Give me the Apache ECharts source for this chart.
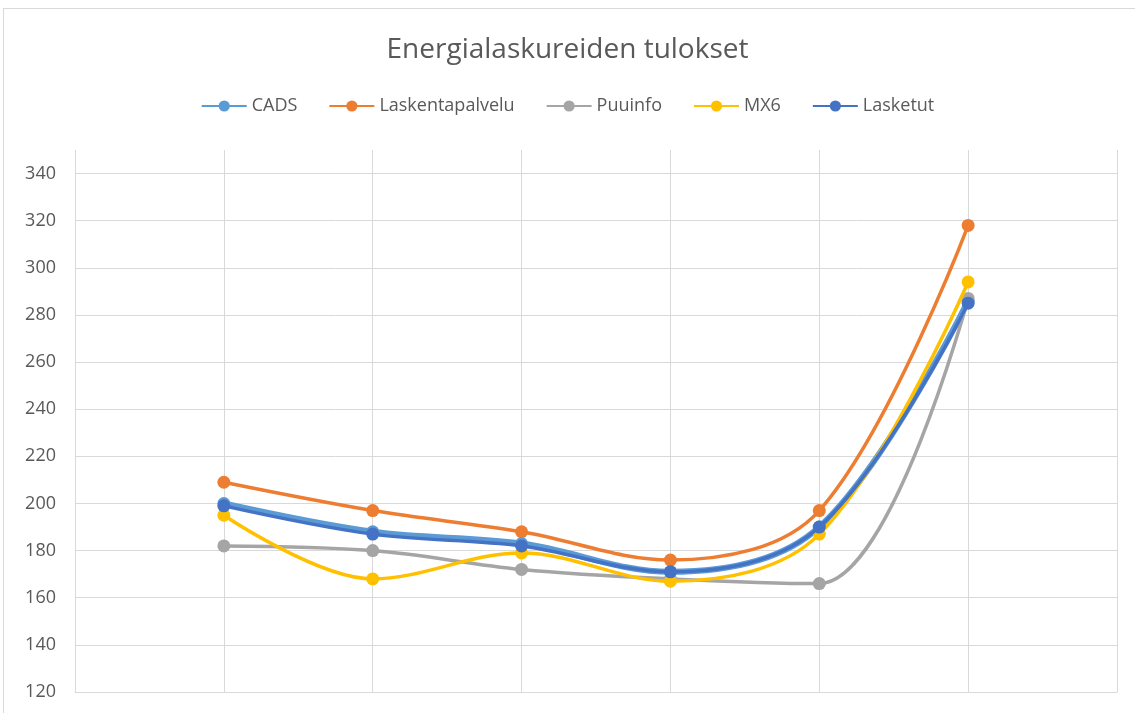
<!DOCTYPE html>
<html>
<head>
<meta charset="utf-8">
<script src="https://cdn.jsdelivr.net/npm/echarts@6/dist/echarts.min.js"></script>
<style>
html,body{margin:0;padding:0;background:#fff;}
#wrap{position:relative;width:1135px;height:713px;overflow:hidden;}
#border{position:absolute;left:3px;top:8px;right:-2px;bottom:-2px;border:1px solid #d9d9d9;}
#chart{position:absolute;left:0;top:0;width:1135px;height:713px;}
</style>
</head>
<body>
<div id="wrap"><div id="border"></div><div id="chart"></div></div>
<script>
const categories = ['', '1', '2', '3', '4', '5', '6', ''];
const seriesNames = ['CADS', 'Laskentapalvelu', 'Puuinfo', 'MX6', 'Lasketut'];
const cads = [null, 200, 188, 183, 171, 190, 286, null];
const laskentapalvelu = [null, 209, 197, 188, 176, 197, 318, null];
const puuinfo = [null, 182, 180, 172, 168, 166, 287, null];
const mx6 = [null, 195, 168, 179, 167, 187, 294, null];
const lasketut = [null, 199, 187, 182, 171, 190, 285, null];
const yTicks = [120, 140, 160, 180, 200, 220, 240, 260, 280, 300, 320, 340];

const colors = ['#5B9BD5', '#ED7D31', '#A5A5A5', '#FFC000', '#4472C4'];
const widths = [6, 3.5, 3.5, 3.5, 3.5];
const values = [cads, laskentapalvelu, puuinfo, mx6, lasketut];

const gridColors = yTicks.map(() => '#d9d9d9').concat(['rgba(0,0,0,0)']);

const chart = echarts.init(document.getElementById('chart'));
chart.setOption({
  animation: false,
  color: colors,
  title: {
    text: 'Energialaskureiden tulokset',
    left: 'center',
    top: 31,
    textStyle: {fontFamily: 'Open Sans', fontSize: 28, fontWeight: 'normal', color: '#595959'}
  },
  legend: {
    top: 92,
    left: 'center',
    itemWidth: 45,
    itemHeight: 14,
    itemGap: 31,
    textStyle: {fontFamily: 'Open Sans', fontSize: 18, color: '#595959'},
    data: seriesNames
  },
  grid: {left: 75, right: 18, top: 150, bottom: 21, containLabel: false},
  xAxis: {
    type: 'category',
    data: categories,
    boundaryGap: false,
    axisLine: {show: true, lineStyle: {color: '#d9d9d9', width: 1}},
    axisTick: {show: false},
    axisLabel: {show: false},
    splitLine: {show: true, lineStyle: {color: '#d9d9d9', width: 1}}
  },
  yAxis: {
    type: 'value',
    min: yTicks[0],
    max: 350,
    interval: 20,
    axisLine: {show: false},
    axisTick: {show: false},
    axisLabel: {showMaxLabel: false, fontFamily: 'Open Sans', fontSize: 18, color: '#595959', margin: 19},
    splitLine: {show: true, lineStyle: {color: gridColors, width: 1}}
  },
  series: seriesNames.map((n, i) => ({
    name: n,
    type: 'line',
    data: values[i],
    smooth: 0.35,
    symbol: 'circle',
    symbolSize: 13,
    lineStyle: {width: widths[i], color: colors[i]},
    itemStyle: {color: colors[i]},
    z: 2 + i
  }))
});
</script>
</body>
</html>
